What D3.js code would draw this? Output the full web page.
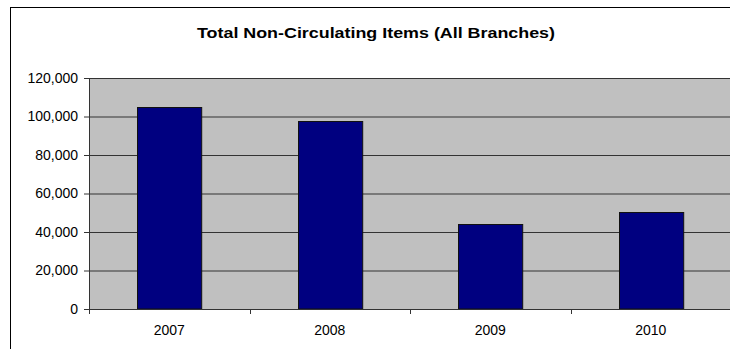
<!DOCTYPE html>
<html>
<head>
<meta charset="utf-8">
<script src="https://cdn.jsdelivr.net/npm/d3@7"></script>
<style>
  body { margin: 0; background: #fff; }
  text { font-family: "Liberation Sans", Arial, sans-serif; }
</style>
</head>
<body>
<div id="chart"></div>
<script>
const years = ['2007', '2008', '2009', '2010'];
const totals = [105000, 97700, 44200, 50200];
const yTicks = [0, 20000, 40000, 60000, 80000, 100000, 120000];

const width = 730;
const height = 349;
const plot = { left: 89, right: 731, top: 78, bottom: 309 };

const svg = d3.select('#chart')
  .append('svg')
  .attr('width', width)
  .attr('height', height)
  .style('display', 'block')

// chart area border (runs off the right and bottom edge)
svg.append('rect')
  .attr('x', 10.5)
  .attr('y', 7.5)
  .attr('width', 740)
  .attr('height', 350)
  .attr('fill', '#fff')
  .attr('stroke', '#000')

svg.append('text')
  .attr('x', 376)
  .attr('y', 38)
  .attr('text-anchor', 'middle')
  .attr('font-size', '15px')
  .attr('font-weight', 'bold')
  .attr('textLength', 358)
  .attr('lengthAdjust', 'spacingAndGlyphs')
  .text('Total Non-Circulating Items (All Branches)')

const xScale = d3.scaleBand()
  .domain(years)
  .range([plot.left, plot.right])
  .paddingInner(0.6)
  .paddingOuter(0.3)

const yScale = d3.scaleLinear()
  .domain([0, 120000])
  .range([plot.bottom, plot.top])

// plot background
svg.append('rect')
  .attr('x', plot.left)
  .attr('y', plot.top)
  .attr('width', plot.right - plot.left)
  .attr('height', plot.bottom - plot.top)
  .attr('fill', '#c0c0c0')

// gridlines
svg.append('g')
  .attr('transform', `translate(${plot.left}, 0)`)
  .call(d3.axisLeft(yScale).tickValues(yTicks).tickSize(-(plot.right - plot.left)).tickFormat(''))
  .call(g => g.select('.domain').remove())
  .call(g => g.selectAll('line').attr('stroke', '#333'))

// bars
svg.selectAll('.bar')
  .data(totals)
  .enter()
  .append('rect')
  .attr('class', 'bar')
  .attr('x', (d, i) => Math.round(xScale(years[i])) + 0.5)
  .attr('y', d => Math.round(yScale(d)) + 0.5)
  .attr('width', xScale.bandwidth())
  .attr('height', d => plot.bottom - Math.round(yScale(d)) - 0.5)
  .attr('fill', '#000080')
  .attr('stroke', '#111')

// y axis
const yAxis = svg.append('g')
  .attr('transform', `translate(${plot.left}, 0)`)
  .call(d3.axisLeft(yScale).tickValues(yTicks).tickSize(5).tickPadding(6).tickFormat(d3.format(',')))
yAxis.selectAll('line, path').attr('stroke', '#333')
yAxis.selectAll('text')
  .attr('font-size', '14px')
  .attr('fill', '#000')
  .attr('font-family', '"Liberation Sans", Arial, sans-serif')

// x axis labels
const xAxis = svg.append('g')
  .attr('transform', `translate(0, ${plot.bottom})`)
  .call(d3.axisBottom(xScale).tickSize(0).tickPadding(16))
xAxis.select('.domain').attr('stroke', '#333')
xAxis.selectAll('text')
  .attr('font-size', '14px')
  .attr('fill', '#000')
  .attr('font-family', '"Liberation Sans", Arial, sans-serif')

// category boundary ticks
const bounds = d3.range(years.length + 1).map(i => plot.left + i * xScale.step())
svg.selectAll('.xtick')
  .data(bounds)
  .enter()
  .append('line')
  .attr('class', 'xtick')
  .attr('x1', d => Math.round(d) + 0.5)
  .attr('x2', d => Math.round(d) + 0.5)
  .attr('y1', plot.bottom)
  .attr('y2', plot.bottom + 5)
  .attr('stroke', '#333')
</script>
</body>
</html>
